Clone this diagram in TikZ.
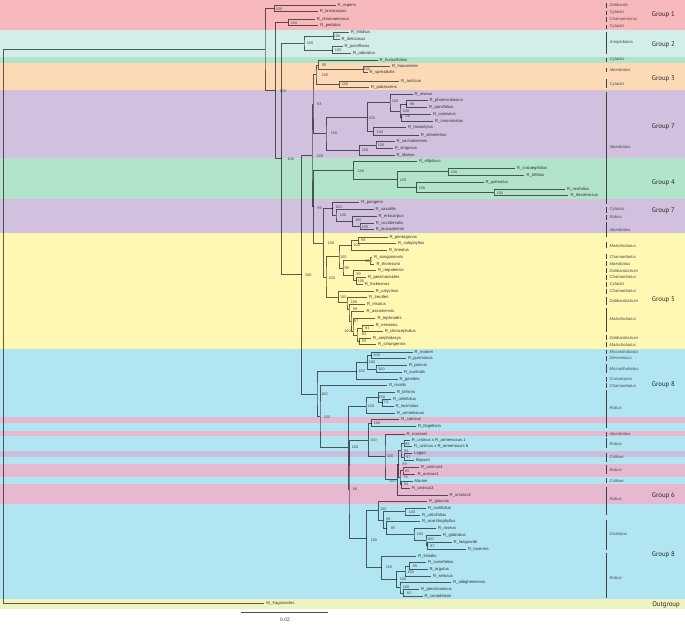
\documentclass[tikz,border=0pt]{standalone}
\usepackage{fontspec}
\setmainfont{Liberation Sans}
\newfontfamily\grpfont{PT Sans}
\definecolor{bPink}{HTML}{F8B9BC}
\definecolor{bCyan}{HTML}{D3EDE8}
\definecolor{bGreen}{HTML}{B2E4CB}
\definecolor{bOrange}{HTML}{FDDAB6}
\definecolor{bPurple}{HTML}{D2C0DF}
\definecolor{bYellow}{HTML}{FFF8B2}
\definecolor{bBlue}{HTML}{B1E5F2}
\definecolor{bPinkB}{HTML}{E7B9D1}
\definecolor{bLav}{HTML}{CDBDDD}
\definecolor{bOut}{HTML}{EEF3BF}
\tikzset{
 br/.style={draw=black, draw opacity=0.62, line width=0.75pt},
 tip/.style={anchor=west, inner xsep=2pt, inner ysep=0pt, font=\fontsize{4.2}{5}\selectfont, text=black!80},
 nl/.style={inner sep=0pt, font=\fontsize{3.8}{4.5}\selectfont, text=black!72},
 gbar/.style={draw=black!75, line width=0.7pt},
 gtxt/.style={anchor=west, inner sep=0pt, font=\fontsize{4.2}{5}\selectfont\itshape, text=black!70},
 grp/.style={anchor=west, inner sep=0pt, font=\grpfont\fontsize{6.8}{8}\selectfont, text=black!85},
 scl/.style={draw=black!70, line width=0.6pt},
}
\begin{document}
\begin{tikzpicture}[x=1pt,y=-1pt]
\useasboundingbox (0,0) rectangle (685,624);
% ---------------- bands
\fill[bPink] (0,0) rectangle (685,29.5);
\fill[bCyan] (0,29.5) rectangle (685,57);
\fill[bGreen] (0,57) rectangle (685,63);
\fill[bOrange] (0,63) rectangle (685,90);
\fill[bPurple] (0,90) rectangle (685,158.3);
\fill[bGreen] (0,158.3) rectangle (685,199);
\fill[bPurple] (0,199) rectangle (685,233);
\fill[bYellow] (0,233) rectangle (685,348.7);
\fill[bBlue] (0,348.7) rectangle (685,599.3);
\fill[bPinkB] (0,417) rectangle (685,422.7);
\fill[bPinkB] (0,431.3) rectangle (685,436);
\fill[bLav] (0,450.7) rectangle (685,457);
\fill[bPinkB] (0,464.3) rectangle (685,477);
\fill[bPinkB] (0,484.3) rectangle (685,503.7);
\fill[bOut] (0,599.3) rectangle (685,608.7);
% ---------------- tips
\node[tip] (tRep) at (335.5,5.7) {R\_repens};
\node[tip] (tLas) at (317.7,11.7) {R\_lasiocarpus};
\node[tip] (tCha) at (314.7,19.3) {R\_chamaemorus};
\node[tip] (tPed) at (318.2,25.7) {R\_pedatus};
\node[tip] (tTri) at (349,32.7) {R\_trilobus};
\node[tip] (tDel) at (339.5,39.3) {R\_deliciosus};
\node[tip] (tPar) at (342.5,46.7) {R\_parviflorus};
\node[tip] (tOdo) at (351,53.3) {R\_odoratus};
\node[tip] (tHum) at (377.5,60.3) {R\_humulifolius};
\node[tip] (tHaw) at (390,66.7) {R\_hawaiensis};
\node[tip] (tSpe) at (367.5,72.3) {R\_spectabilis};
\node[tip] (tArc) at (399,81) {R\_arcticus};
\node[tip] (tPub) at (369,87.5) {R\_pubescens};
\node[tip] (tNiv) at (412.5,94.3) {R\_niveus};
\node[tip] (tPho) at (427.5,100.7) {R\_phoenicolasius};
\node[tip] (tPvf) at (427,107.7) {R\_parvifolius};
\node[tip] (tCor) at (431,114.3) {R\_coreanus};
\node[tip] (tInn) at (433,121) {R\_innominatus};
\node[tip] (tLsy) at (406,127.7) {R\_lasiostylus};
\node[tip] (tAle) at (418.7,135) {R\_alexeterius};
\node[tip] (tSac) at (394.5,141.7) {R\_sachalinensis};
\node[tip] (tStr) at (392.7,148.3) {R\_strigosus};
\node[tip] (tIda) at (394.5,155) {R\_idaeus};
\node[tip] (tEll) at (417,161.7) {R\_ellipticus};
\node[tip] (tCra) at (515,168.3) {R\_crataegifolius};
\node[tip] (tTrf) at (524.3,175) {R\_trifidus};
\node[tip] (tPal) at (483.5,182.7) {R\_palmatus};
\node[tip] (tRos) at (565,189) {R\_rosifolius};
\node[tip] (tIll) at (568.3,195.7) {R\_illecebrosus};
\node[tip] (tPun) at (359.2,202.3) {R\_pungens};
\node[tip] (tSax) at (373.5,209.3) {R\_saxatilis};
\node[tip] (tEri) at (376.5,216) {R\_eriocarpus};
\node[tip] (tOcc) at (373.7,223.3) {R\_occidentalis};
\node[tip] (tLeu) at (373.7,229.7) {R\_leucodermis};
\node[tip] (tPen) at (387.5,237) {R\_pentagonus};
\node[tip] (tCal) at (396,243.7) {R\_calophyllus};
\node[tip] (tLin) at (387,250) {R\_lineatus};
\node[tip] (tSon) at (372,257.3) {R\_songonensis};
\node[tip] (tTho) at (374.4,264) {R\_thomsonii};
\node[tip] (tNep) at (376,270.7) {R\_nepalensis};
\node[tip] (tPec) at (366,277.3) {R\_pectinarioides};
\node[tip] (tFoc) at (362.7,284.3) {R\_fockeanus};
\node[tip] (tCly) at (373.7,291) {R\_calycinus};
\node[tip] (tTreu) at (367,297.7) {R\_treutleri};
\node[tip] (tLri) at (365,304.7) {R\_lrisutus};
\node[tip] (tAss) at (364.4,311.7) {R\_assamensis};
\node[tip] (tTep) at (375.4,318.3) {R\_tephrodes};
\node[tip] (tIre) at (373.7,325) {R\_irenaeus};
\node[tip] (tCli) at (382.7,331.7) {R\_clinocephalus};
\node[tip] (tAmp) at (371,338.3) {R\_amphidasys};
\node[tip] (tIch) at (376,344.7) {R\_ichangensis};
\node[tip] (tMoo) at (412.5,352) {R\_moorei};
\node[tip] (tGun) at (405.8,358.7) {R\_gunnianus};
\node[tip] (tPvs) at (406.8,365.7) {R\_parvus};
\node[tip] (tAus) at (401.8,372.3) {R\_australis};
\node[tip] (tGeo) at (397.5,379.7) {R\_geoides};
\node[tip] (tNiv2) at (386.8,385.7) {R\_nivalis};
\node[tip] (tBif) at (394.8,392.3) {R\_bifrons};
\node[tip] (tUlm) at (391,399.3) {R\_ulmifolius};
\node[tip] (tLac) at (393.5,406) {R\_laciniatus};
\node[tip] (tArm) at (395,413.3) {R\_armeniacus};
\node[tip] (tCae) at (399.2,419.7) {R\_caesius};
\node[tip] (tFla) at (415.8,426.7) {R\_flagellaris};
\node[tip] (tMac) at (404.5,434) {R\_macraei};
\node[tip] (tUa1) at (409.7,440.3) {R\_ursinus x R\_armeniacus 1};
\node[tip] (tUa6) at (412,446.7) {R\_ursinus x R\_armeniacus 6};
\node[tip] (tLog) at (412,453.7) {Logan};
\node[tip] (tBoy) at (413.8,460.3) {Boysen};
\node[tip] (tUr4) at (419,467.3) {R\_ursinus4};
\node[tip] (tUr1) at (415.3,474) {R\_ursinus1};
\node[tip] (tMar) at (412.5,481) {Marion};
\node[tip] (tUr3) at (410,488.3) {R\_ursinus3};
\node[tip] (tUr2) at (447.5,495) {R\_ursinus2};
\node[tip] (tGla) at (427,501.7) {R\_glaucus};
\node[tip] (tCri) at (426,508.3) {R\_coriifolius};
\node[tip] (tUrt) at (420,515) {R\_urticifolius};
\node[tip] (tAca) at (420,521.7) {R\_acanthophyllus};
\node[tip] (tRos2) at (436,528.3) {R\_roseus};
\node[tip] (tGlb) at (441,535.7) {R\_glabratus};
\node[tip] (tLae) at (451.5,542.3) {R\_laegaardii};
\node[tip] (tLox) at (466,549) {R\_loxensis};
\node[tip] (tTrv) at (416,556) {R\_trivialis};
\node[tip] (tCun) at (426,562.7) {R\_cuneifolius};
\node[tip] (tArg) at (427.5,569.3) {R\_argutus};
\node[tip] (tSet) at (431,576.7) {R\_setosus};
\node[tip] (tAll) at (451,582.7) {R\_allegheniensis};
\node[tip] (tPns) at (419,589.3) {R\_pensilvanicus};
\node[tip] (tCan) at (422.5,596.7) {R\_canadensis};
\node[tip, text=black!70!olive] (tOut) at (264,603.3) {W\_fragarioides};
% ---------------- internal nodes
\coordinate (nRL) at (274.3,8.7);
\coordinate (nCP) at (288.3,22.5);
\coordinate (nTD) at (333.3,36);
\coordinate (nPO) at (332.7,50);
\coordinate (nAN) at (304,43);
\coordinate (nHS) at (363.3,69.5);
\coordinate (n90) at (318.3,65);
\coordinate (nAP) at (339.3,84.2);
\coordinate (nG3) at (316,74.6);
\coordinate (nPP) at (406.7,104.2);
\coordinate (nCI) at (401.7,117.7);
\coordinate (nR7) at (400,110.9);
\coordinate (nNV) at (390,102.6);
\coordinate (nLA) at (373.3,131.3);
\coordinate (nUP) at (367.3,117);
\coordinate (nSS) at (376,145);
\coordinate (nSI) at (359.3,150);
\coordinate (nG7) at (326,133.5);
\coordinate (n83) at (313,104);
\coordinate (nCT) at (448.3,171.7);
\coordinate (nRI) at (494,192.35);
\coordinate (nPA) at (416.7,187.5);
\coordinate (n4B) at (397.3,179.6);
\coordinate (nG4) at (353.3,170.65);
\coordinate (nOL) at (360,226.5);
\coordinate (nEO) at (352.7,221.2);
\coordinate (nSE) at (336,215.3);
\coordinate (nPU) at (332.7,208.8);
\coordinate (nPC) at (358.3,240.3);
\coordinate (nPL) at (351.7,245.2);
\coordinate (nST) at (370,260.7);
\coordinate (nPT) at (356.7,280.8);
\coordinate (nNP) at (353.3,275.7);
\coordinate (nQ) at (343,268.2);
\coordinate (nT0) at (339,256.7);
\coordinate (nB0) at (338.3,297.3);
\coordinate (nB1) at (347,302.3);
\coordinate (nB2) at (349,309.3);
\coordinate (nB3) at (351,321);
\coordinate (nB4) at (353,331);
\coordinate (nB5) at (357,334.9);
\coordinate (nIC) at (362,328.35);
\coordinate (nAI) at (359.5,341.5);
\coordinate (nG5) at (326,277);
\coordinate (nZP) at (323.3,242.9);
\coordinate (n99) at (313.5,206.8);
\coordinate (nHB) at (312,155.4);
\coordinate (nMG) at (371.5,355.35);
\coordinate (nPA2) at (376,369);
\coordinate (nAU2) at (367.3,362.2);
\coordinate (nAU) at (356.7,371.3);
\coordinate (nUL) at (382.7,402.7);
\coordinate (nBB) at (378.3,397.5);
\coordinate (nB8) at (366,406);
\coordinate (nCF) at (371.7,423.2);
\coordinate (nUA) at (404,443.5);
\coordinate (nLB) at (404,457);
\coordinate (n93) at (401,450.25);
\coordinate (n65) at (403,470.5);
\coordinate (n84) at (401.5,484.65);
\coordinate (n76) at (400,477.6);
\coordinate (n89) at (398.5,463.9);
\coordinate (nU) at (397.3,479.5);
\coordinate (nM) at (385,456.7);
\coordinate (nCM) at (368.3,440);
\coordinate (nCU) at (405,511.65);
\coordinate (nLL) at (427.5,545.65);
\coordinate (nGL) at (426,540.7);
\coordinate (nRG) at (414,534.5);
\coordinate (nAR) at (386.7,528.1);
\coordinate (nR2) at (383.3,519.9);
\coordinate (nOB) at (378.3,510.8);
\coordinate (nCA) at (409.3,566);
\coordinate (nSE2) at (405,571.35);
\coordinate (nPC2) at (403.3,593);
\coordinate (nAL) at (400,587.85);
\coordinate (nRN2) at (396.7,579.6);
\coordinate (nRN) at (381.7,567.3);
\coordinate (nOR) at (366.7,538.3);
\coordinate (n66) at (349,489.3);
\coordinate (nA) at (348.3,447.6);
\coordinate (nB) at (320,416.65);
\coordinate (nC) at (317,394);
\coordinate (n301) at (301.7,274.7);
\coordinate (n281) at (281.7,158.85);
\coordinate (n275) at (275.3,90.7);
\coordinate (n265) at (265,49.7);
\coordinate (nRoot) at (3.3,326.5);
% ---------------- branches
\draw[br] (tRep.west) -| (nRL) |- (tLas.west);
\draw[br] (tCha.west) -| (nCP) |- (tPed.west);
\draw[br] (tTri.west) -| (nTD) |- (tDel.west);
\draw[br] (tPar.west) -| (nPO) |- (tOdo.west);
\draw[br] (nTD) -| (nAN) |- (nPO);
\draw[br] (tHaw.west) -| (nHS) |- (tSpe.west);
\draw[br] (tHum.west) -| (n90) |- (nHS);
\draw[br] (tArc.west) -| (nAP) |- (tPub.west);
\draw[br] (n90) -| (nG3) |- (nAP);
\draw[br] (tPho.west) -| (nPP) |- (tPvf.west);
\draw[br] (tCor.west) -| (nCI) |- (tInn.west);
\draw[br] (nPP) -| (nR7) |- (nCI);
\draw[br] (tNiv.west) -| (nNV) |- (nR7);
\draw[br] (tLsy.west) -| (nLA) |- (tAle.west);
\draw[br] (nNV) -| (nUP) |- (nLA);
\draw[br] (tSac.west) -| (nSS) |- (tStr.west);
\draw[br] (nSS) -| (nSI) |- (tIda.west);
\draw[br] (nUP) -| (nG7) |- (nSI);
\draw[br] (nG3) -| (n83) |- (nG7);
\draw[br] (tCra.west) -| (nCT) |- (tTrf.west);
\draw[br] (tRos.west) -| (nRI) |- (tIll.west);
\draw[br] (tPal.west) -| (nPA) |- (nRI);
\draw[br] (nCT) -| (n4B) |- (nPA);
\draw[br] (tEll.west) -| (nG4) |- (n4B);
\draw[br] (tOcc.west) -| (nOL) |- (tLeu.west);
\draw[br] (tEri.west) -| (nEO) |- (nOL);
\draw[br] (tSax.west) -| (nSE) |- (nEO);
\draw[br] (tPun.west) -| (nPU) |- (nSE);
\draw[br] (tPen.west) -| (nPC) |- (tCal.west);
\draw[br] (nPC) -| (nPL) |- (tLin.west);
\draw[br] (tSon.west) -| (nST) |- (tTho.west);
\draw[br] (tPec.west) -| (nPT) |- (tFoc.west);
\draw[br] (tNep.west) -| (nNP) |- (nPT);
\draw[br] (nST) -| (nQ) |- (nNP);
\draw[br] (nPL) -| (nT0) |- (nQ);
\draw[br] (tIre.west) -| (nIC) |- (tCli.west);
\draw[br] (tAmp.west) -| (nAI) |- (tIch.west);
\draw[br] (nIC) -| (nB5) |- (nAI);
\draw[br] (tTep.west) -| (nB4) |- (nB5);
\draw[br] (tAss.west) -| (nB3) |- (nB4);
\draw[br] (tLri.west) -| (nB2) |- (nB3);
\draw[br] (tTreu.west) -| (nB1) |- (nB2);
\draw[br] (tCly.west) -| (nB0) |- (nB1);
\draw[br] (nT0) -| (nG5) |- (nB0);
\draw[br] (nPU) -| (nZP) |- (nG5);
\draw[br] (nG4) -| (n99) |- (nZP);
\draw[br] (n83) -| (nHB) |- (n99);
\draw[br] (tMoo.west) -| (nMG) |- (tGun.west);
\draw[br] (tPvs.west) -| (nPA2) |- (tAus.west);
\draw[br] (nMG) -| (nAU2) |- (nPA2);
\draw[br] (nAU2) -| (nAU) |- (tGeo.west);
\draw[br] (tUlm.west) -| (nUL) |- (tLac.west);
\draw[br] (tBif.west) -| (nBB) |- (nUL);
\draw[br] (nBB) -| (nB8) |- (tArm.west);
\draw[br] (tCae.west) -| (nCF) |- (tFla.west);
\draw[br] (tUa1.west) -| (nUA) |- (tUa6.west);
\draw[br] (tLog.west) -| (nLB) |- (tBoy.west);
\draw[br] (nUA) -| (n93) |- (nLB);
\draw[br] (tUr4.west) -| (n65) |- (tUr1.west);
\draw[br] (tMar.west) -| (n84) |- (tUr3.west);
\draw[br] (n65) -| (n76) |- (n84);
\draw[br] (n93) -| (n89) |- (n76);
\draw[br] (n89) -| (nU) |- (tUr2.west);
\draw[br] (tMac.west) -| (nM) |- (nU);
\draw[br] (nCF) -| (nCM) |- (nM);
\draw[br] (tCri.west) -| (nCU) |- (tUrt.west);
\draw[br] (tLae.west) -| (nLL) |- (tLox.west);
\draw[br] (tGlb.west) -| (nGL) |- (nLL);
\draw[br] (tRos2.west) -| (nRG) |- (nGL);
\draw[br] (tAca.west) -| (nAR) |- (nRG);
\draw[br] (nCU) -| (nR2) |- (nAR);
\draw[br] (tGla.west) -| (nOB) |- (nR2);
\draw[br] (tCun.west) -| (nCA) |- (tArg.west);
\draw[br] (nCA) -| (nSE2) |- (tSet.west);
\draw[br] (tPns.west) -| (nPC2) |- (tCan.west);
\draw[br] (tAll.west) -| (nAL) |- (nPC2);
\draw[br] (nSE2) -| (nRN2) |- (nAL);
\draw[br] (tTrv.west) -| (nRN) |- (nRN2);
\draw[br] (nOB) -| (nOR) |- (nRN);
\draw[br] (nCM) -| (n66) |- (nOR);
\draw[br] (nB8) -| (nA) |- (n66);
\draw[br] (tNiv2.west) -| (nB) |- (nA);
\draw[br] (nAU) -| (nC) |- (nB);
\draw[br] (nHB) -| (n301) |- (nC);
\draw[br] (nAN) -| (n281) |- (n301);
\draw[br] (nCP) -| (n275) |- (n281);
\draw[br] (nRL) -| (n265) |- (n275);
\draw[br] (n265) -| (nRoot) |- (tOut.west);
% ---------------- support values
\node[nl] (lRL) at (279,9.3) {100};
\node[nl] (lCP) at (294,23) {100};
\node[nl] (lTD) at (337,36) {100};
\node[nl] (lPO) at (338,50) {100};
\node[nl] (lAN) at (310,43.3) {100};
\node[nl] (lHS) at (367,69.3) {100};
\node[nl] (l90) at (324,65) {90};
\node[nl] (lAP) at (345,84.3) {100};
\node[nl] (lG3) at (325,74.7) {100};
\node[nl] (lPP) at (412.3,104) {98};
\node[nl] (lCI) at (407.8,116.3) {56};
\node[nl] (lR7) at (406,110.9) {100};
\node[nl] (lNV) at (395,100.7) {100};
\node[nl] (lLA) at (380,131.7) {100};
\node[nl] (lUP) at (371.7,117.7) {100};
\node[nl] (lSS) at (381,145.5) {100};
\node[nl] (lSI) at (365,150.5) {100};
\node[nl] (lG7) at (334,133.2) {100};
\node[nl] (l83) at (319.3,104.3) {83};
\node[nl] (lCT) at (454,172.5) {100};
\node[nl] (lRI) at (500,193) {100};
\node[nl] (lPA) at (422,187.7) {100};
\node[nl] (l4B) at (403,180) {100};
\node[nl] (lG4) at (361,170.9) {100};
\node[nl] (lOL) at (365,226.7) {100};
\node[nl] (lEO) at (358.3,220.5) {100};
\node[nl] (lSE) at (343,215.5) {100};
\node[nl] (lPU) at (338.5,207) {100};
\node[nl] (lPC) at (363.3,239.8) {99};
\node[nl] (lPL) at (356.7,245.5) {100};
\node[nl] (lST) at (368.5,260.7) {100};
\node[nl] (lPT) at (361,281) {100};
\node[nl] (lNP) at (358.5,274.5) {99};
\node[nl] (lQ) at (346.7,267.7) {99};
\node[nl] (lT0) at (343.3,257.3) {100};
\node[nl] (lB0) at (343.3,297.3) {100};
\node[nl] (lB1) at (354,302.3) {100};
\node[nl] (lB2) at (355,309.3) {99};
\node[nl] (lB3) at (356,321) {97};
\node[nl] (lB4) at (347.5,331) {100};
\node[nl] (lB5) at (364,334.5) {92};
\node[nl] (lIC) at (367.3,327.9) {84};
\node[nl] (lAI) at (364,341.3) {93};
\node[nl] (lG5) at (331.7,278.3) {100};
\node[nl] (lZP) at (331,243.3) {100};
\node[nl] (l99) at (319.5,207.7) {99};
\node[nl] (lHB) at (320,155.7) {100};
\node[nl] (lMG) at (376.7,355.3) {100};
\node[nl] (lPA2) at (381.5,369.3) {100};
\node[nl] (lAU2) at (372,362.2) {100};
\node[nl] (lAU) at (361.7,371.3) {100};
\node[nl] (lUL) at (386,402.6) {74};
\node[nl] (lBB) at (382,397) {100};
\node[nl] (lB8) at (371,405.7) {100};
\node[nl] (lCF) at (377,423.3) {100};
\node[nl] (lUA) at (407.3,443.7) {99};
\node[nl] (l93) at (406.3,450.7) {93};
\node[nl] (lLB) at (408.3,457) {97};
\node[nl] (l89) at (404.5,464) {89};
\node[nl] (l65) at (407.3,471) {65};
\node[nl] (l76) at (405.5,477.5) {76};
\node[nl] (l84) at (406,484) {84};
\node[nl] (lU) at (392.5,481.5) {100};
\node[nl] (lM) at (390,456.2) {100};
\node[nl] (lCM) at (373.5,440) {100};
\node[nl] (lCU) at (412,511.7) {100};
\node[nl] (lLL) at (432.5,546.2) {87};
\node[nl] (lGL) at (430.5,539.5) {100};
\node[nl] (lRG) at (420,534.3) {100};
\node[nl] (lAR) at (393,527.7) {95};
\node[nl] (lR2) at (388.3,519.5) {98};
\node[nl] (lOB) at (383.3,509.5) {100};
\node[nl] (lCA) at (415,566) {85};
\node[nl] (lSE2) at (410.7,572.3) {100};
\node[nl] (lPC2) at (409,593.3) {82};
\node[nl] (lAL) at (406,586.7) {100};
\node[nl] (lRN2) at (403,579.3) {100};
\node[nl] (lRN) at (389,567.3) {100};
\node[nl] (lOR) at (374,540) {100};
\node[nl] (l66) at (355,489.3) {66};
\node[nl] (lA) at (355,446.7) {100};
\node[nl] (lB) at (327,417.3) {100};
\node[nl] (lC) at (324.5,394) {100};
\node[nl] (l301) at (308.3,275) {100};
\node[nl] (l281) at (290.7,159) {100};
\node[nl] (l275) at (283,91) {100};
% ---------------- subgenus bars
\foreach \ya/\yb/\yt/\txt [count=\k] in {
 3/8/5.3/Dalibarda, 10.5/15/12.7/Cylactis, 17/21.5/19/Chamaemorus, 24.5/29/26.7/Cylactis,
 32/53.5/42.3/Anoplobatus, 57.5/62/59.7/Cylactis, 67.5/72/69.7/Idaeobatus, 79/88/84/Cylactis,
 92/203.5/146.7/Idaeobatus, 206.5/212.5/209.5/Cylactis, 215/220/217.3/Rubus, 222.3/236.7/230/Idaeobatus,
 241.7/248.3/245.7/Malachobatus, 254/259.3/256.7/Chamaebatus, 261/266/263.7/Idaeobatus,
 268/273.3/270.7/Dalibardastrum, 275/280/277.3/Chamaebatus, 282/286.7/284.3/Cylactis,
 288.5/293.5/291/Chamaebatus, 296.7/305/301/Dalibardastrum, 307.7/331.7/319/Malachobatus,
 335/340/337.7/Dalibardastrum, 342.3/347.3/345/Malachobatus, 349.5/354/351.7/Micranthobatus,
 356/361/358.3/Diemenicus, 364/373/369/Micranthobatus, 377/381.5/379/Comaropsis,
 383.3/388/385.7/Chamaebatus, 390/428/408.3/Rubus, 432/436.5/434/Idaeobatus, 438/448/444/Rubus,
 452.7/461.7/457/Cultivar, 465/474.3/470/Rubus, 478.3/483/480.7/Cultivar, 486.7/515/499.3/Rubus,
 520/550/534.3/Orobatus, 552.7/598.3/578.3/Rubus}
{
 \draw[gbar] (606.7,\ya) -- (606.7,\yb);
 \node[gtxt] (g\k) at (609.5,\yt) {\txt};
}
% ---------------- group labels
\node[grp] (G1) at (651.7,15) {Group 1};
\node[grp] (G2) at (651.7,45) {Group 2};
\node[grp] (G3) at (651.7,79) {Group 3};
\node[grp] (G7a) at (651.7,126.7) {Group 7};
\node[grp] (G4) at (651.7,182.7) {Group 4};
\node[grp] (G7b) at (651.7,211) {Group 7};
\node[grp] (G5) at (651.7,300) {Group 5};
\node[grp] (G8a) at (651.7,385) {Group 8};
\node[grp] (G6) at (651.7,496) {Group 6};
\node[grp] (G8b) at (651.7,554.3) {Group 8};
\node[grp, anchor=east] (GO) at (680,604.3) {Outgroup};
% ---------------- scale bar
\coordinate (sA) at (240.7,612.7);
\coordinate (sB) at (328.3,612.7);
\draw[scl] (sA) -- (sB);
\node[inner sep=0pt, font=\fontsize{5}{6}\selectfont, text=black!75] (sLab) at (285,619.5) {0.02};
\end{tikzpicture}
\end{document}
